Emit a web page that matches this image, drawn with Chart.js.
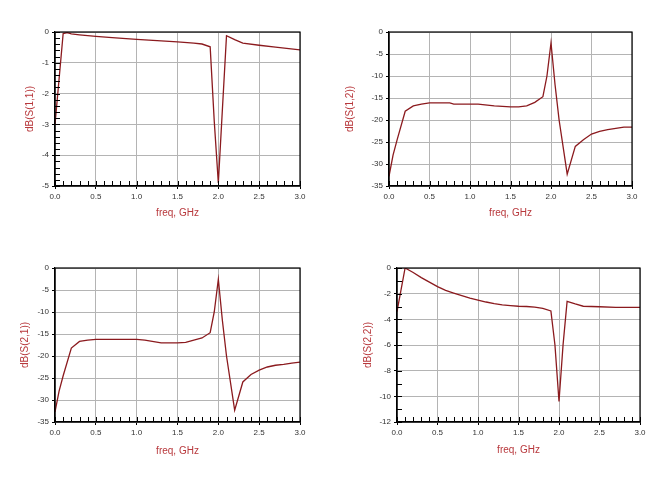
<!DOCTYPE html>
<html>
<head>
<meta charset="utf-8">
<script src="https://cdn.jsdelivr.net/npm/chart.js@4.4.1/dist/chart.umd.min.js"></script>
<style>
  body { margin: 0; background: #fff; }
  #wrap { position: relative; width: 669px; height: 480px; overflow: hidden; }
  .box { position: absolute; }
</style>
</head>
<body>
<div id="wrap">
  <div class="box" style="left:0px;top:20px;width:335px;height:215px"><canvas id="c11"></canvas></div>
  <div class="box" style="left:335px;top:20px;width:334px;height:215px"><canvas id="c12"></canvas></div>
  <div class="box" style="left:0px;top:255px;width:335px;height:215px"><canvas id="c21"></canvas></div>
  <div class="box" style="left:335px;top:255px;width:334px;height:215px"><canvas id="c22"></canvas></div>
</div>
<script>
// frequency points (GHz) and values (dB)
const s11Freq = [0, 0.1, 0.15, 0.2, 0.3, 0.5, 0.7, 1.0, 1.2, 1.5, 1.7, 1.8, 1.9, 1.95, 2.0, 2.05, 2.1, 2.2, 2.3, 2.5, 2.7, 3.0];
const s11Db   = [-3.0, -0.05, -0.02, -0.06, -0.09, -0.14, -0.18, -0.24, -0.27, -0.32, -0.36, -0.39, -0.48, -2.9, -4.9, -2.5, -0.12, -0.25, -0.36, -0.43, -0.49, -0.58];

const s12Freq = [0, 0.05, 0.1, 0.2, 0.3, 0.4, 0.5, 0.75, 0.8, 1.0, 1.1, 1.3, 1.5, 1.6, 1.7, 1.8, 1.9, 1.95, 2.0, 2.05, 2.1, 2.2, 2.3, 2.4, 2.5, 2.6, 2.7, 2.8, 2.9, 3.0];
const s12Db   = [-32.8, -28, -24.5, -18, -16.8, -16.4, -16.1, -16.1, -16.4, -16.4, -16.4, -16.8, -17.0, -17.0, -16.8, -16.0, -14.7, -10, -2.5, -12, -20, -32.3, -26, -24.5, -23.2, -22.6, -22.2, -21.9, -21.6, -21.6];

const s21Freq = [0, 0.05, 0.1, 0.2, 0.3, 0.4, 0.5, 0.75, 1.0, 1.1, 1.3, 1.5, 1.6, 1.7, 1.8, 1.9, 1.95, 2.0, 2.05, 2.1, 2.2, 2.3, 2.4, 2.5, 2.6, 2.7, 2.8, 2.9, 3.0];
const s21Db   = [-32.7, -28, -24.5, -18.2, -16.7, -16.4, -16.2, -16.2, -16.2, -16.4, -17.0, -17.0, -16.9, -16.4, -15.9, -14.7, -10, -2.6, -12, -20, -32.3, -25.9, -24.2, -23.2, -22.5, -22.1, -21.9, -21.6, -21.4];

const s22Freq = [0, 0.1, 0.2, 0.3, 0.4, 0.5, 0.6, 0.7, 0.8, 0.9, 1.0, 1.1, 1.2, 1.3, 1.4, 1.5, 1.6, 1.7, 1.8, 1.9, 1.95, 2.0, 2.05, 2.1, 2.2, 2.3, 2.4, 2.5, 2.7, 3.0];
const s22Db   = [-3.4, 0, -0.35, -0.75, -1.1, -1.45, -1.75, -1.95, -2.15, -2.35, -2.5, -2.65, -2.78, -2.87, -2.93, -2.98, -3.0, -3.05, -3.15, -3.35, -6.0, -10.4, -6.0, -2.6, -2.8, -2.98, -3.0, -3.02, -3.07, -3.07];

const freqTicks = [0, 0.5, 1.0, 1.5, 2.0, 2.5, 3.0];

const lineColor = '#8b1a1e';
const titleColor = '#b8383c';
const gridColor = '#b4b4b4';

// inner minor ticks + closed frame, drawn through the chart's own scales
const frameAndMinor = {
    id: 'frameAndMinor',
    afterDraw(chart, args, opts) {
        const ctx = chart.ctx;
        const a = chart.chartArea;
        const xs = chart.scales.x, ys = chart.scales.y;
        ctx.save();
        ctx.strokeStyle = '#000';
        ctx.lineWidth = 1;
        ctx.beginPath();
        for (let v = xs.min; v <= xs.max + 1e-9; v += opts.xMinor) {
            const px = Math.round(xs.getPixelForValue(v)) + 0.5;
            ctx.moveTo(px, a.bottom);
            ctx.lineTo(px, a.bottom - 5);
        }
        if (opts.yMinor) {
            for (let v = ys.min; v <= ys.max + 1e-9; v += opts.yMinor) {
                const py = Math.round(ys.getPixelForValue(v)) + 0.5;
                ctx.moveTo(a.left, py);
                ctx.lineTo(a.left + 5, py);
            }
        }
        ctx.stroke();
        ctx.lineWidth = 1.2;
        ctx.strokeRect(a.left, a.top, a.right - a.left, a.bottom - a.top);
        ctx.restore();
    }
};

function makeChart(id, freq, db, label, yMin, yStep, yMinor, box) {
    const pts = freq.map((f, i) => ({ x: f, y: db[i] }));
    return new Chart(document.getElementById(id), {
        type: 'line',
        data: {
            datasets: [{
                data: pts,
                borderColor: lineColor,
                borderWidth: 1.3,
                pointRadius: 0,
                tension: 0,
                fill: false
            }]
        },
        options: {
            responsive: true,
            maintainAspectRatio: false,
            animation: false,
            events: [],
            layout: { padding: { top: box.top, right: box.right, left: 0, bottom: 0 } },
            plugins: {
                legend: { display: false },
                tooltip: { enabled: false },
                frameAndMinor: { xMinor: 0.1, yMinor: yMinor }
            },
            scales: {
                x: {
                    type: 'linear',
                    min: 0, max: 3,
                    afterBuildTicks: s => { s.ticks = freqTicks.map(v => ({ value: v })); },
                    afterFit: s => { s.height = box.xh; },
                    grid: { color: gridColor, tickColor: '#000', tickLength: 3, drawTicks: true },
                    border: { display: true, color: '#000', width: 1.2 },
                    ticks: {
                        color: '#333', font: { family: 'Arial, "Liberation Sans"', size: 8 },
                        padding: 3, maxRotation: 0,
                        callback: v => v.toFixed(1)
                    },
                    title: {
                        display: true, text: 'freq, GHz', color: titleColor,
                        font: { family: 'Arial, "Liberation Sans"', size: 10 },
                        padding: { top: 0, bottom: box.xtPad }
                    }
                },
                y: {
                    type: 'linear',
                    min: yMin, max: 0,
                    ticks: {
                        stepSize: yStep,
                        color: '#333', font: { family: 'Arial, "Liberation Sans"', size: 8 },
                        padding: 3
                    },
                    afterFit: s => { s.width = box.left; },
                    grid: { color: gridColor, tickColor: '#000', tickLength: 3 },
                    border: { display: true, color: '#000', width: 1.2 },
                    title: {
                        display: true, text: label, color: titleColor,
                        font: { family: 'Arial, "Liberation Sans"', size: 10 },
                        padding: { top: box.ytPad, bottom: 0 }
                    }
                }
            }
        },
        plugins: [frameAndMinor]
    });
}

makeChart('c11', s11Freq, s11Db, 'dB(S(1,1))', -5, 1, 0.2,
    { left: 55, top: 12, right: 35, xh: 49, xtPad: 16, ytPad: 24 });
makeChart('c12', s12Freq, s12Db, 'dB(S(1,2))', -35, 5, 0,
    { left: 54, top: 12, right: 37, xh: 49, xtPad: 16, ytPad: 9 });
makeChart('c21', s21Freq, s21Db, 'dB(S(2,1))', -35, 5, 0,
    { left: 55, top: 13, right: 35, xh: 48, xtPad: 13, ytPad: 19 });
makeChart('c22', s22Freq, s22Db, 'dB(S(2,2))', -12, 2, 1,
    { left: 62, top: 13, right: 29, xh: 48, xtPad: 14, ytPad: 27 });
</script>
</body>
</html>
